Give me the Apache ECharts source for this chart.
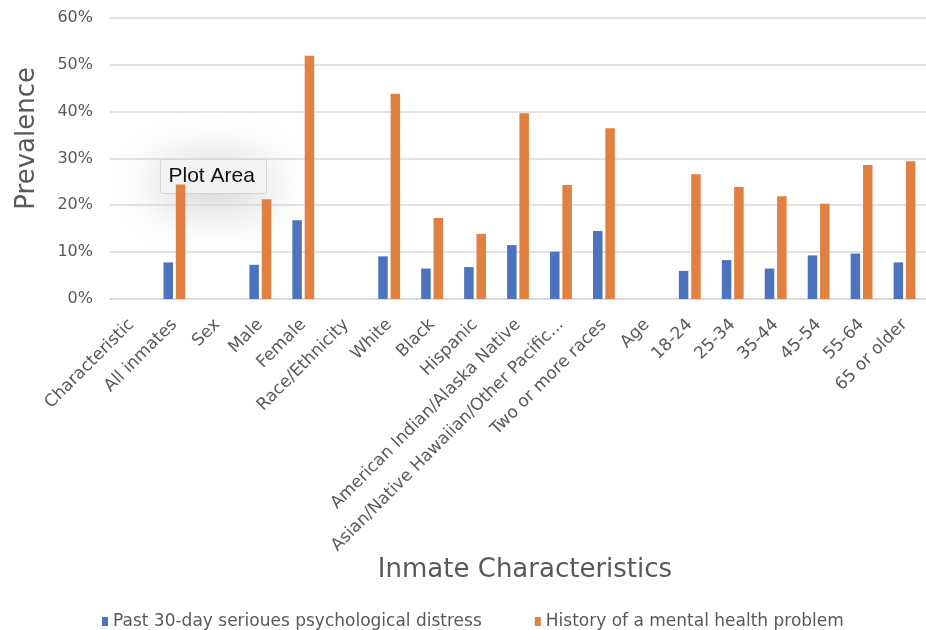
<!DOCTYPE html>
<html>
<head>
<meta charset="utf-8">
<script src="https://cdn.jsdelivr.net/npm/echarts@6/dist/echarts.min.js"></script>
<style>html,body{margin:0;padding:0;background:#fff}#c{width:926px;height:630px}</style>
</head>
<body>
<div id="c"></div>
<script>
const categories = ["Characteristic","All inmates","Sex","Male","Female","Race/Ethnicity","White","Black","Hispanic","American Indian/Alaska Native","Asian/Native Hawaiian/Other Pacific...","Two or more races","Age","18-24","25-34","35-44","45-54","55-64","65 or older"];
const distress = [null,7.8,null,7.3,16.8,null,9.1,6.5,6.8,11.5,10.1,14.5,null,6.0,8.3,6.5,9.3,9.7,7.8];
const history = [null,24.4,null,21.3,51.9,null,43.8,17.3,13.9,39.6,24.3,36.4,null,26.6,23.9,21.9,20.3,28.6,29.4];
const yTicks = [0,10,20,30,40,50,60];
const seriesNames = ["Past 30-day serioues psychological distress","History of a mental health problem"];

const font = "DejaVu Sans";
const chart = echarts.init(document.getElementById('c'));
chart.setOption({
  animation:false,
  textStyle:{fontFamily:font},
  grid:{left:110,right:0,top:17.7,bottom:331,containLabel:false,outerBoundsMode:'none'},
  legend:{
    left:97,top:608,itemWidth:6,itemHeight:9,itemGap:53,icon:'rect',
    textStyle:{fontFamily:font,fontSize:17,color:'#595959'},
    data:seriesNames
  },
  xAxis:{
    type:'category',data:categories,
    name:'Inmate Characteristics',nameLocation:'middle',nameGap:258,
    nameTextStyle:{fontFamily:font,fontSize:26,color:'#595959',padding:[0,0,0,14]},
    axisLine:{lineStyle:{color:'#d9d9d9',width:1.5}},
    axisTick:{show:false},
    axisLabel:{interval:0,rotate:45,fontSize:17,color:'#595959',margin:23,fontFamily:font}
  },
  yAxis:{
    type:'value',min:yTicks[0],max:yTicks[yTicks.length-1],interval:10,
    name:'Prevalence',nameLocation:'middle',nameGap:70,
    nameTextStyle:{fontFamily:font,fontSize:26,color:'#595959',padding:[0,0,0,40]},
    axisLine:{show:false},axisTick:{show:false},
    axisLabel:{formatter:'{value}%',fontSize:16,color:'#595959',margin:17,fontFamily:font},
    splitLine:{lineStyle:{color:'#d9d9d9',width:1.5}}
  },
  series:[
    {name:seriesNames[0],type:'bar',data:distress,barWidth:9.5,barGap:'30%',itemStyle:{color:'#4D73BF'}},
    {name:seriesNames[1],type:'bar',data:history,barWidth:9.5,itemStyle:{color:'#E08142'}}
  ],
  graphic:[{
    type:'group',left:160,top:159,
    children:[
      {type:'rect',shape:{x:0,y:0,width:106,height:34,r:2},
       style:{fill:'#f3f3f3',stroke:'#d4d4d4',lineWidth:1,shadowBlur:50,shadowColor:'rgba(0,0,0,0.25)',shadowOffsetY:8}},
      {type:'text',x:8,y:17,style:{text:'Plot Area',fontFamily:'Liberation Sans',fontSize:21,fill:'#111',verticalAlign:'middle'}}
    ]
  }]
});
</script>
</body>
</html>
